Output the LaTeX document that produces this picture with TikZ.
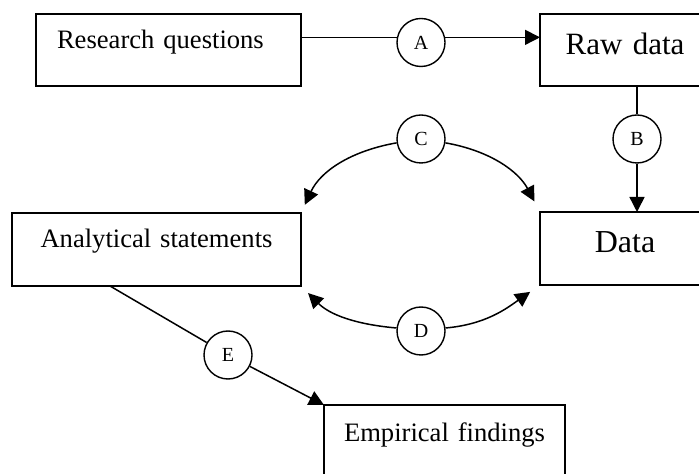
\documentclass[tikz,border=0pt]{standalone}
\usepackage{fontspec}
\setmainfont{Liberation Serif}
\usetikzlibrary{arrows.meta}
\tikzset{box/.style={draw,line width=0.75pt,inner sep=0pt,outer sep=0pt,align=center,anchor=north west},
  letter/.style={circle,draw,line width=0.7pt,minimum size=24pt,inner sep=0pt,font=\fontsize{10}{12}\selectfont},
  link/.style={line width=0.75pt},
  arr/.style={line width=0.75pt,-{Triangle[length=7.5pt,width=7.5pt]}}}

\begin{document}
\begin{tikzpicture}[x=1pt,y=1pt] % 1pt = 2px of the reference
            \useasboundingbox (0,0) rectangle (349.5,-237);
            % boxes
            \node[box,align=left,text width=111.5pt,inner xsep=10.5pt,text height=17.5pt,text depth=18.5pt,font=\fontsize{13.3}{16}\selectfont] (rq) at (18,-7) {Research questions};
            \node[box,text width=85pt,text height=20.5pt,text depth=15.5pt,font=\fontsize{15.5}{18}\selectfont] (raw) at (270,-7) {Raw data};
            \node[box,text width=85pt,text height=20.5pt,text depth=16pt,font=\fontsize{16}{19}\selectfont] (data) at (270,-106) {Data};
            \node[box,text width=144.5pt,text height=17.5pt,text depth=19pt,font=\fontsize{13.3}{16}\selectfont] (as) at (6,-106.5) {Analytical statements};
            \node[box,text width=120.5pt,text height=18pt,text depth=18.5pt,font=\fontsize{13.3}{16}\selectfont] (ef) at (162,-202.5) {Empirical findings};
            % circles
            \node[letter] (A) at (210.5,-21.25) {A};
            \node[letter] (B) at (318.5,-69.5) {B};
            \node[letter] (C) at (210.5,-69.5) {C};
            \node[letter] (D) at (210.5,-165.5) {D};
            \node[letter] (E) at (114,-177.5) {E};
            % connectors
            \draw[link] (A.168 -| rq.east) -- (A.168);
            \draw[arr] (A.12) -- (A.12 -| raw.west);
            \draw[link] (B.north |- raw.south) -- (B.north);
            \draw[arr] (B.south) -- (B.south |- data.north);
            \draw[arr,shorten >=4.5pt] (C.189) to[out=190,in=65] (as.north east);
            \draw[arr,shorten >=6pt] (C.351) to[out=-10,in=118] (data.north west);
            \draw[arr,shorten >=5pt] (D.173) to[out=175,in=-45] (as.south east);
            \draw[arr,shorten >=6pt] (D.7) to[out=5,in=215] (data.south west);
            \draw[link] ([xshift=49pt]as.south west) -- (E);
            \draw[arr] (E) -- (ef.north west);
        \end{tikzpicture}
\end{document}
